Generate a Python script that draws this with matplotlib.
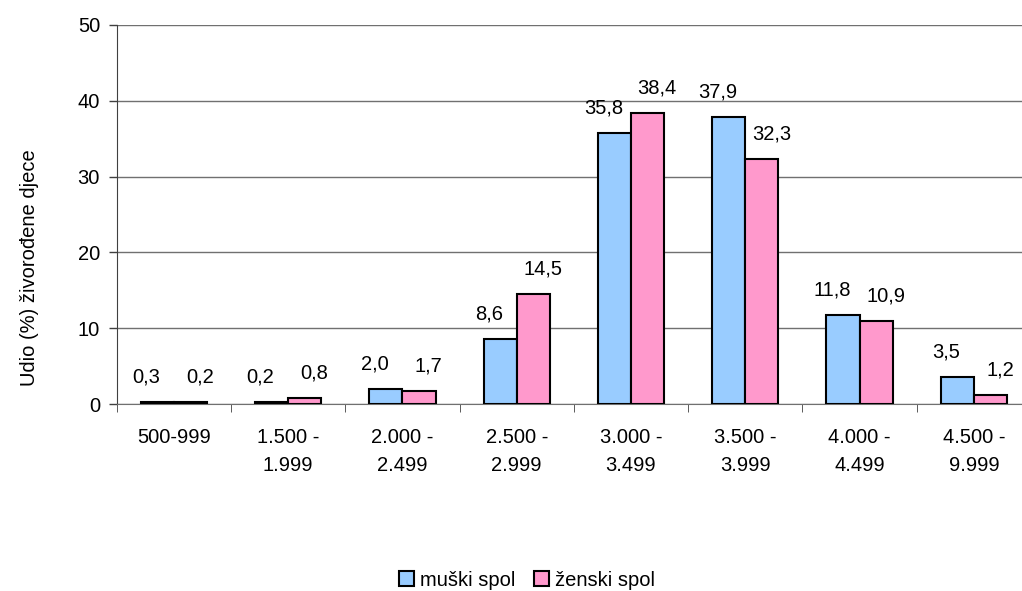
import matplotlib
matplotlib.use("Agg")
import matplotlib.pyplot as plt
import numpy as np
from matplotlib.ticker import FixedLocator

categories = ["500-999", "1.500 -\n1.999", "2.000 -\n2.499", "2.500 -\n2.999",
              "3.000 -\n3.499", "3.500 -\n3.999", "4.000 -\n4.499", "4.500 -\n9.999"]
muski = [0.3, 0.2, 2.0, 8.6, 35.8, 37.9, 11.8, 3.5]
zenski = [0.2, 0.8, 1.7, 14.5, 38.4, 32.3, 10.9, 1.2]
series_names = ["muški spol", "ženski spol"]
yticks = [0, 10, 20, 30, 40, 50]

plt.rcParams['font.family'] = ['Liberation Sans', 'DejaVu Sans']
fs = 14.5

fig = plt.figure(figsize=(10.22, 5.91), dpi=100)
ax = fig.add_axes([116.7/1022, 1-404/591, (1031-116.7)/1022, (404-25)/591])

x = np.arange(len(categories))
w = 0.29
b1 = ax.bar(x - w/2, muski, w, color='#99CCFF', edgecolor='black', linewidth=1.5, label=series_names[0], zorder=3)
b2 = ax.bar(x + w/2, zenski, w, color='#FF99CC', edgecolor='black', linewidth=1.5, label=series_names[1], zorder=3)

def fmt(v):
    return f"{v:.1f}".replace('.', ',')

for bars, vals, dx in ((b1, muski, -8), (b2, zenski, 7)):
    for r, v in zip(bars, vals):
        ax.annotate(fmt(v), (r.get_x() + r.get_width()/2, v), xytext=(dx, 18),
                    textcoords='offset points', ha='center', va='center', fontsize=fs)

ax.set_xlim(-0.5, len(categories) - 0.5)
ax.set_ylim(0, 50)
ax.set_yticks(yticks)
ax.set_yticklabels([str(t) for t in yticks], fontsize=fs)
ax.yaxis.grid(True, color='#707070', linewidth=1.0, zorder=0)
ax.set_axisbelow(True)

ax.set_xticks(x)
ax.set_xticklabels(categories, fontsize=fs, linespacing=1.6)
ax.tick_params(axis='x', which='major', length=0, pad=17)
ax.xaxis.set_minor_locator(FixedLocator(np.arange(-0.5, len(categories), 1.0)))
ax.tick_params(axis='x', which='minor', length=6, color='#404040', direction='out')
ax.tick_params(axis='y', length=6, width=1, color='#404040', pad=6)

for s in ['top', 'right']:
    ax.spines[s].set_visible(False)
ax.spines['left'].set_color('#404040')
ax.spines['bottom'].set_color('#707070')

fig.text(30/1022, 1-268/591, "Udio (%) živorođene djece", rotation=90,
         ha='center', va='center', fontsize=fs)

leg = fig.legend(handles=[b1, b2], labels=series_names, loc='center',
                 bbox_to_anchor=(527/1022, 1-580/591), ncol=2, frameon=False,
                 fontsize=fs, handlelength=0.75, handleheight=0.75, handletextpad=0.3,
                 columnspacing=0.9)

fig.savefig("out.png", dpi=100)
